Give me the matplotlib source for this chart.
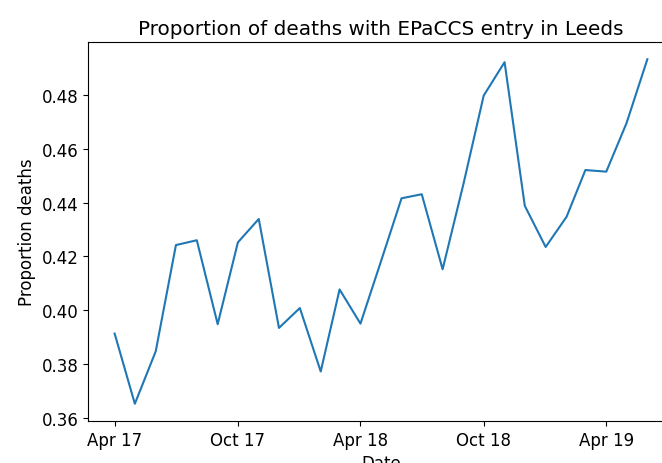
import numpy as np
import pandas as pd
import matplotlib
matplotlib.use('Agg')
import matplotlib.pyplot as plt
import matplotlib.dates as mdates

plt.rcParams['font.size'] = 12

# monthly values, Apr 2017 .. Jun 2019
months = pd.date_range('2017-04-01', '2019-06-01', freq='MS')
proportion = [0.3913, 0.3652, 0.3847, 0.4242, 0.4260, 0.3948, 0.4252, 0.4339,
              0.3934, 0.4008, 0.3772, 0.4077, 0.3950, 0.4178, 0.4416, 0.4431,
              0.4152, 0.4470, 0.4798, 0.4922, 0.4388, 0.4235, 0.4347, 0.4521,
              0.4515, 0.4695, 0.4933]

fig = plt.figure(figsize=(6.62, 4.64), dpi=100)
# axes runs a bit past the right edge (picture is cropped there)
ax = fig.add_axes([88/662, 1 - 422/464, (674 - 88)/662, (422 - 43)/464])
ax.plot(months, proportion, color='#1f77b4', linewidth=1.5)

ax.xaxis.set_major_locator(mdates.MonthLocator(bymonth=[4, 10]))
ax.xaxis.set_major_formatter(mdates.DateFormatter('%b %y'))
ax.set_yticks([0.36, 0.38, 0.40, 0.42, 0.44, 0.46, 0.48])

ax.set_title('Proportion of deaths with EPaCCS entry in Leeds')
ax.set_xlabel('Date')
ax.set_ylabel('Proportion deaths')

fig.savefig('out.png', dpi=100)
